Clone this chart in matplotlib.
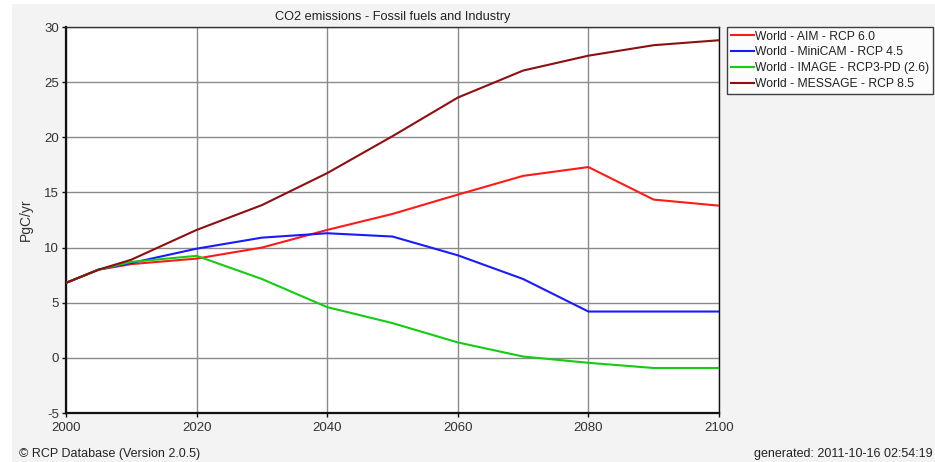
import numpy as np
import matplotlib.pyplot as plt
from matplotlib.patches import Rectangle

# Data (PgC/yr)
years = [2000, 2005, 2010, 2020, 2030, 2040, 2050, 2060, 2070, 2080, 2090, 2100]
aim_rcp60 = [6.8, 8.0, 8.5, 9.0, 10.0, 11.6, 13.05, 14.8, 16.5, 17.3, 14.35, 13.8]
minicam_rcp45 = [6.8, 8.0, 8.6, 9.9, 10.9, 11.3, 11.0, 9.3, 7.15, 4.2, 4.2, 4.2]
image_rcp3pd = [6.8, 8.0, 8.7, 9.25, 7.15, 4.6, 3.15, 1.4, 0.12, -0.45, -0.92, -0.92]
message_rcp85 = [6.8, 8.0, 8.9, 11.6, 13.85, 16.75, 20.1, 23.6, 26.05, 27.4, 28.35, 28.8]

series_labels = ['World - AIM - RCP 6.0', 'World - MiniCAM - RCP 4.5',
                 'World - IMAGE - RCP3-PD (2.6)', 'World - MESSAGE - RCP 8.5']
series_colors = ['#ff1a1a', '#1a1aff', '#14cc14', '#8c1010']
series_values = [aim_rcp60, minicam_rcp45, image_rcp3pd, message_rcp85]

x_ticks = [2000, 2020, 2040, 2060, 2080, 2100]
y_ticks = [-5, 0, 5, 10, 15, 20, 25, 30]

plt.rcParams['font.family'] = ['Liberation Sans', 'DejaVu Sans']
plt.rcParams['axes.unicode_minus'] = False

fig = plt.figure(figsize=(9.35, 4.62), dpi=100, facecolor='white')
# light gray panel behind everything
fig.patches.append(Rectangle((12 / 935, 0), 1, 1 - 4 / 462, transform=fig.transFigure,
                             facecolor='#f3f3f3', edgecolor='none', zorder=-10))

ax = fig.add_axes([66 / 935, 1 - 413 / 462, (719 - 66) / 935, (413 - 27) / 462])
ax.set_facecolor('white')

for vals, lab, col in zip(series_values, series_labels, series_colors):
    ax.plot(years, vals, color=col, lw=1.5, label=lab, zorder=3)

ax.set_xlim(2000, 2100)
ax.set_ylim(-5, 30)
ax.set_xticks(x_ticks)
ax.set_yticks(y_ticks)
ax.grid(True, color='#8a8a8a', lw=1.0, zorder=1)
ax.set_axisbelow(True)

for side in ['left', 'bottom']:
    ax.spines[side].set_linewidth(1.6)
    ax.spines[side].set_color('#111111')
ax.spines['top'].set_color('#333333')
ax.spines['right'].set_color('#111111')
ax.spines['top'].set_linewidth(1.0)
ax.spines['right'].set_linewidth(1.0)

ax.tick_params(axis='both', labelsize=9.5, colors='#111111', labelcolor='#333333',
               length=3, width=1, direction='out')
ax.tick_params(axis='y', pad=2)
ax.set_ylabel('PgC/yr', fontsize=10, color='#333333', labelpad=8)
ax.set_title('CO2 emissions - Fossil fuels and Industry', fontsize=9.2, color='#222222', pad=5)

leg = ax.legend(loc='upper left', bbox_to_anchor=(727 / 935, 1 - 27 / 462),
                bbox_transform=fig.transFigure, fontsize=8.7, frameon=True,
                fancybox=False, edgecolor='#111111', handlelength=1.9,
                handletextpad=0.15, labelspacing=0.32, borderpad=0.3,
                borderaxespad=0)
leg.get_frame().set_linewidth(1.0)
for t in leg.get_texts():
    t.set_color('#222222')

fig.text(19 / 935, 1 - 454 / 462, '\u00a9 RCP Database (Version 2.0.5)', fontsize=9,
         color='#222222', va='center', ha='left')
fig.text(933 / 935, 1 - 454 / 462, 'generated: 2011-10-16 02:54:19', fontsize=9,
         color='#222222', va='center', ha='right')

fig.savefig('out.png', dpi=100)
